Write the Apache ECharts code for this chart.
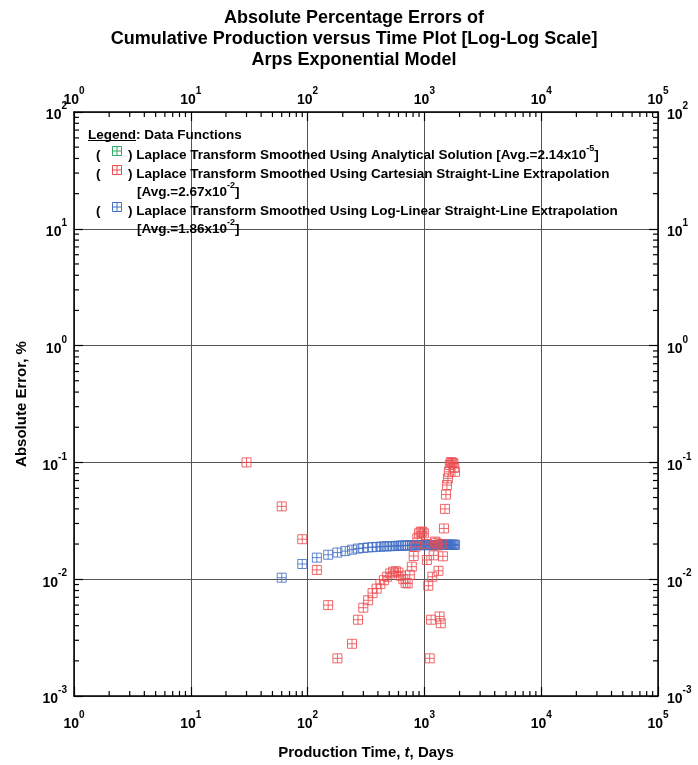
<!DOCTYPE html>
<html><head><meta charset="utf-8">
<script src="https://cdn.jsdelivr.net/npm/echarts@6/dist/echarts.min.js"></script>
<style>html,body{margin:0;padding:0;background:#fff}#c{width:698px;height:765px}</style>
</head><body><div id="c"></div>
<script>
// ---------------- data ----------------
const timeDays = [30,60,90,120,150,180,210,240,270,300,330,360,390,420,450,480,510,540,570,600,
  630,660,690,720,750,780,810,840,870,900,930,960,990,1020,1050,1080,1110,1140,1170,1200,
  1230,1260,1290,1320,1350,1380,1410,1440,1470,1500,1530,1560,1590,1620,1650,1680,1710,1740,1770,1800,1830];

const cartesianErr = [0.100,0.042,0.022,0.012,0.0060,0.0021,null,0.0028,0.0045,0.0057,
  0.0066,0.0076,0.0083,0.0091,0.0098,0.0105,0.0112,0.0116,0.0117,0.0114,
  0.0107,0.0100,0.0093,0.0092,0.0109,0.0128,0.0158,0.0190,0.0224,0.0247,
  0.0255,0.0255,0.0247,0.0200,0.0146,0.0088,0.0021,0.0045,0.0105,0.0160,
  0.0210,0.0205,0.0195,0.0118,0.0048,0.0042,0.0200,0.0157,0.0272,0.0400,
  0.0530,0.0640,0.0730,0.0830,0.0950,0.1000,0.1000,0.0990,0.0980,0.0900,0.0830];

const logLinearErr = [null,0.0103,0.0135,0.0153,0.0162,0.0169,0.0174,0.0179,0.0183,0.0185,
  0.0187,0.0188,0.0189,0.0190,0.0191,0.0191,0.0192,0.0192,0.0193,0.0193,
  0.0194,0.0194,0.0194,0.0195,0.0195,0.0195,0.0195,0.0196,0.0196,0.0196,
  0.0196,0.0196,0.0196,0.0196,0.0196,0.0196,0.0196,0.0196,0.0196,0.0196,
  0.0196,0.0196,0.0196,0.0196,0.0196,0.0197,0.0197,0.0197,0.0197,0.0197,
  0.0197,0.0197,0.0197,0.0197,0.0197,0.0197,0.0197,0.0197,0.0197,0.0197,0.0197];

// analytical-solution errors (avg ~2e-5) lie below the plotted range
const analyticalErr = [];

const titleLines = ['Absolute Percentage Errors of',
  'Cumulative Production versus Time Plot [Log-Log Scale]',
  'Arps Exponential Model'];
const seriesNames = ['Laplace Transform Smoothed Using Analytical Solution',
  'Laplace Transform Smoothed Using Cartesian Straight-Line Extrapolation',
  'Laplace Transform Smoothed Using Log-Linear Straight-Line Extrapolation'];
const seriesAvgMant = ['2.14','2.67','1.86'];
const seriesAvgExp = ['-5','-2','-2'];
const seriesColors = ['#2ea862','#ec4b50','#4470c4'];
const minorMultipliers = [2,3,4,5,6,7,8,9];
const xDecades = [1,10,100,1000,10000];
const yDecades = [0.001,0.01,0.1,1,10];

// ---------------- chart ----------------
const FONT = '"Liberation Sans", Arial, sans-serif';
const chart = echarts.init(document.getElementById('c'), null, {renderer: 'canvas'});
const GL = 74, GR = 40, GT = 112, GB = 69;

const supRich = {
  b: {fontSize: 14, fontWeight: 'bold', fontFamily: FONT, color: '#000', lineHeight: 21, verticalAlign: 'bottom'},
  s: {fontSize: 10, fontWeight: 'bold', fontFamily: FONT, color: '#000', lineHeight: 11, verticalAlign: 'top'}
};
function powLabel(v) {
  const e = Math.round(Math.log10(v));
  return '{b|10}{s|' + e + '}';
}
const symbolPath = 'path://M0,0L10,0L10,10L0,10Z M5,0L5,10 M0,5L10,5';

function xAxisCfg(pos, main) {
  return {
    type: 'log', logBase: 10, min: 1, max: 100000, position: pos, splitNumber: 5,
    axisLine: {show: true, onZero: false, lineStyle: {color: '#000', width: 1.5}},
    axisTick: {show: true, inside: true, length: 9, lineStyle: {color: '#000', width: 1.2}},
    axisLabel: {show: true, margin: pos === 'top' ? 5 : 14, formatter: powLabel, rich: supRich},
    splitLine: {show: main, lineStyle: {color: '#555', width: 1}},
    minorTick: {show: false}
  };
}
function yAxisCfg(pos, main) {
  return {
    type: 'log', logBase: 10, min: 0.001, max: 100, position: pos, splitNumber: 5,
    axisLine: {show: true, onZero: false, lineStyle: {color: '#000', width: 1.5}},
    axisTick: {show: true, inside: true, length: 9, lineStyle: {color: '#000', width: 1.2}},
    axisLabel: {show: true, margin: pos === 'left' ? 7 : 9, formatter: powLabel, rich: supRich},
    splitLine: {show: main, lineStyle: {color: '#555', width: 1}}
  };
}

const xMain = xAxisCfg('bottom', true);
xMain.name = '{n|Production Time, }{i|t}{n|, Days}';
xMain.nameLocation = 'middle';
xMain.nameGap = 49;
xMain.nameTextStyle = {rich: {
  n: {fontSize: 15, fontWeight: 'bold', fontFamily: FONT, color: '#000'},
  i: {fontSize: 15, fontWeight: 'bold', fontStyle: 'italic', fontFamily: FONT, color: '#000'}
}};
const yMain = yAxisCfg('left', true);
yMain.name = 'Absolute Error, %';
yMain.nameLocation = 'middle';
yMain.nameGap = 45;
yMain.nameTextStyle = {fontSize: 15, fontWeight: 'bold', fontFamily: FONT, color: '#000'};

function pairs(vals) {
  const out = [];
  for (let i = 0; i < timeDays.length && i < vals.length; i++) {
    if (vals[i] != null) out.push([timeDays[i], vals[i]]);
  }
  return out;
}
function scatter(idx, vals, z) {
  return {
    name: seriesNames[idx], type: 'scatter', xAxisIndex: 0, yAxisIndex: 0,
    data: pairs(vals), symbol: symbolPath, symbolSize: 9, z: z,
    itemStyle: {color: 'rgba(255,255,255,0)', borderColor: seriesColors[idx], borderWidth: 1, opacity: 0.85},
    emphasis: {disabled: true}, animation: false
  };
}

chart.setOption({
  animation: false,
  backgroundColor: '#fff',
  title: {
    text: titleLines.join('\n'), left: 349, top: 3, textAlign: 'center',
    textStyle: {fontSize: 18, fontWeight: 'bold', fontFamily: FONT, color: '#000', lineHeight: 21}
  },
  grid: {left: GL, right: GR, top: GT, bottom: GB, containLabel: false},
  xAxis: [xMain, xAxisCfg('top', false)],
  yAxis: [yMain, yAxisCfg('right', false)],
  legend: {show: false},
  series: [scatter(0, analyticalErr, 3), scatter(2, logLinearErr, 4), scatter(1, cartesianErr, 5)]
});

// ---------------- minor ticks (through the axis scales) + legend box ----------------
const gfx = [];
const x0 = chart.convertToPixel({xAxisIndex: 0}, 1);
const x1 = chart.convertToPixel({xAxisIndex: 0}, 100000);
const yTop = chart.convertToPixel({yAxisIndex: 0}, 100);
const yBot = chart.convertToPixel({yAxisIndex: 0}, 0.001);
const ML = 5;
xDecades.forEach(d => minorMultipliers.forEach(m => {
  const px = chart.convertToPixel({xAxisIndex: 0}, d * m);
  gfx.push({type: 'line', silent: true, z: 10, shape: {x1: px, y1: yBot, x2: px, y2: yBot - ML}, style: {stroke: '#000', lineWidth: 1.2}});
  gfx.push({type: 'line', silent: true, z: 10, shape: {x1: px, y1: yTop, x2: px, y2: yTop + ML}, style: {stroke: '#000', lineWidth: 1.2}});
}));
yDecades.forEach(d => minorMultipliers.forEach(m => {
  const py = chart.convertToPixel({yAxisIndex: 0}, d * m);
  gfx.push({type: 'line', silent: true, z: 10, shape: {x1: x0, y1: py, x2: x0 + ML, y2: py}, style: {stroke: '#000', lineWidth: 1.2}});
  gfx.push({type: 'line', silent: true, z: 10, shape: {x1: x1, y1: py, x2: x1 - ML, y2: py}, style: {stroke: '#000', lineWidth: 1.2}});
}));

// legend
const LF = 13.5;
const legRich = {
  b: {fontSize: LF, fontWeight: 'bold', fontFamily: FONT, color: '#000', lineHeight: 18, verticalAlign: 'bottom'},
  s: {fontSize: 9, fontWeight: 'bold', fontFamily: FONT, color: '#000', lineHeight: 10, verticalAlign: 'top'}
};
function legText(x, y, txt) {
  gfx.push({type: 'text', silent: true, z: 20, style: {x: x, y: y, text: txt, rich: legRich, verticalAlign: 'middle', align: 'left'}});
}
legText(88, 133, '{b|Legend: Data Functions}');
gfx.push({type: 'line', silent: true, z: 20, shape: {x1: 88, y1: 140.5, x2: 136, y2: 140.5}, style: {stroke: '#000', lineWidth: 1}});
const rowY = [153, 172, 209];
const secondLine = [false, true, true];
for (let i = 0; i < 3; i++) {
  const y = rowY[i];
  legText(96, y, '{b|(}');
  gfx.push({type: 'group', x: 117, y: y - 2, silent: true, z: 20, children: [
    {type: 'rect', shape: {x: -4.5, y: -4.5, width: 9, height: 9}, style: {fill: 'none', stroke: seriesColors[i], lineWidth: 1}},
    {type: 'line', shape: {x1: 0, y1: -4.5, x2: 0, y2: 4.5}, style: {stroke: seriesColors[i], lineWidth: 1}},
    {type: 'line', shape: {x1: -4.5, y1: 0, x2: 4.5, y2: 0}, style: {stroke: seriesColors[i], lineWidth: 1}}
  ]});
  if (!secondLine[i]) {
    legText(128, y, '{b|) ' + seriesNames[i] + ' [Avg.=' + seriesAvgMant[i] + 'x10}{s|' + seriesAvgExp[i] + '}{b|]}');
  } else {
    legText(128, y, '{b|) ' + seriesNames[i] + '}');
    legText(137, y + 18, '{b|[Avg.=' + seriesAvgMant[i] + 'x10}{s|' + seriesAvgExp[i] + '}{b|]}');
  }
}

chart.setOption({graphic: gfx});
</script>
</body></html>
